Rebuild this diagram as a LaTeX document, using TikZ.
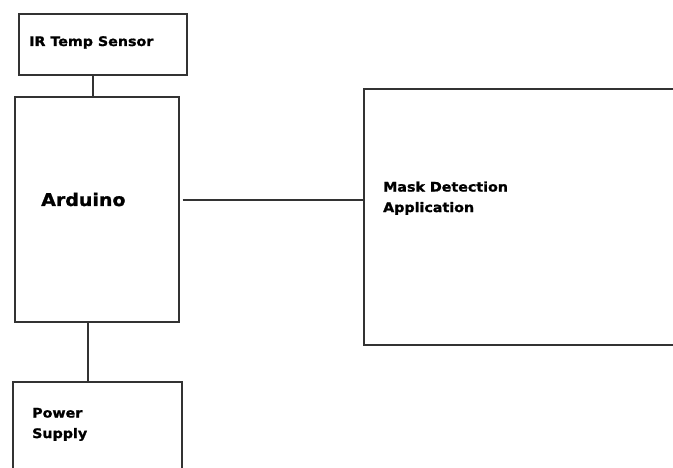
\documentclass[tikz,border=0pt]{standalone}
\usepackage{fontspec}
\setmainfont{DejaVu Sans}[FakeStretch=1.08,BoldFeatures={FakeBold=1.3}]
\begin{document}
\begin{tikzpicture}[x=1pt,y=-1pt,
  blk/.style={draw=black!80,line width=1.7pt,inner sep=0pt,anchor=north west,rectangle},
  lbl/.style={anchor=base west,inner sep=0pt,font=\bfseries\fontsize{13.2}{20.5}\selectfont,align=left},
  conn/.style={draw=black!80,line width=1.7pt}]
\useasboundingbox (0,0) rectangle (673,468);
\clip (0,0) rectangle (673,468);
\node[blk,minimum width=168pt,minimum height=61pt] (ir) at (18,13) {};
\node[blk,minimum width=164pt,minimum height=225pt] (ard) at (14,96) {};
\node[blk,minimum width=337pt,minimum height=256pt] (mask) at (363,88) {};
\node[blk,minimum width=169pt,minimum height=119pt] (pow) at (12,381) {};
\node[lbl] (irt) at (29,46) {IR Temp Sensor};
\node[lbl,font=\bfseries\fontsize{17.6}{20}\selectfont] (ardt) at (41,206) {Arduino};
\node[lbl,anchor=north west] (maskt) at (383,177) {\strut Mask Detection\\Application};
\node[lbl,anchor=north west] (powt) at (32,403) {\strut Power\\Supply};
\coordinate (ca) at (93,0);
\coordinate (cp) at (88,0);
\coordinate (cm) at (0,200);
\draw[conn] (ir.south -| ca) -- (ard.north -| ca);
\draw[conn] (ard.south -| cp) -- (pow.north -| cp);
\draw[conn] ([xshift=3pt]ard.east |- cm) -- (mask.west |- cm);
\end{tikzpicture}
\end{document}
